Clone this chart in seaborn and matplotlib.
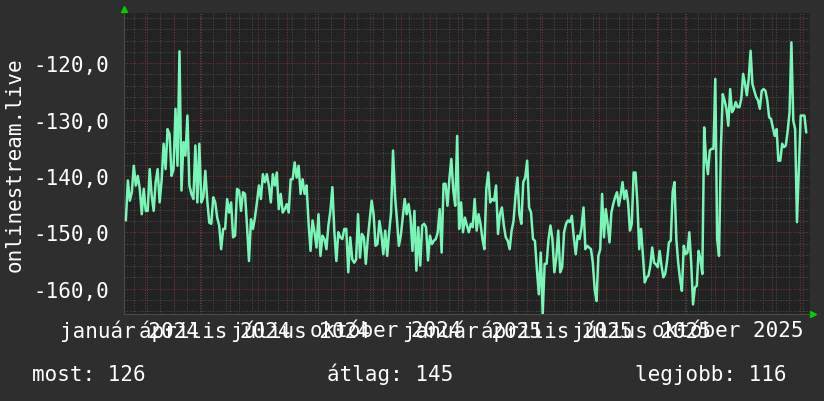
import pandas as pd
import seaborn as sns
import matplotlib
matplotlib.use('Agg')
import matplotlib.pyplot as plt
import matplotlib.dates as mdates
from matplotlib.ticker import MultipleLocator, FixedLocator, FuncFormatter

# values, in three traced stretches (left, middle, right)
seg1 = [-147.9, -140.8, -144.4, -142.9, -138.2, -141.7, -140.0, -142.3, -146.8, -142.3,
        -146.2, -146.2, -138.8, -143.5, -146.2, -141.1, -138.8, -144.7, -140.8, -134.3,
        -138.8, -131.7, -132.6, -140.0, -138.8, -128.1, -138.2, -117.9, -142.6, -134.0,
        -136.4, -129.3, -141.7, -143.2, -144.1, -134.6, -144.7, -134.3, -144.7, -143.8,
        -139.1, -144.4, -148.3, -148.5, -143.8, -144.7, -147.4, -148.8, -153.0, -149.4,
        -149.4, -144.1, -146.5, -144.7, -150.9, -150.6, -142.3, -142.6, -146.2, -142.9,
        -143.2, -148.8, -155.1, -147.7, -149.4, -147.4, -144.7, -141.7, -144.1, -139.7,
        -141.1, -139.7, -141.7, -144.7, -139.7, -141.7, -139.4, -145.9, -143.2, -146.5,
        -145.9, -145.0, -146.5, -140.6, -140.6, -137.6, -140.3, -138.2, -143.2, -140.6,
        -143.2, -141.7, -148.3, -153.3, -147.9, -150.0, -152.7, -146.8, -154.2, -150.6,
        -151.2, -153.0, -148.8, -146.2, -142.0, -150.0, -155.1, -150.0, -150.9, -151.2,
        -149.4, -149.4, -157.1, -150.9, -154.8, -155.4]
seg2 = [-154.8, -146.8, -154.5, -150.3, -150.9, -155.6, -151.2, -147.7, -144.4, -146.8,
        -152.4, -152.1, -148.0, -150.3, -153.9, -149.7, -154.2, -150.0, -146.5, -135.5,
        -143.5, -147.7, -152.4, -150.6, -147.4, -144.1, -146.8, -145.0, -147.4, -153.3,
        -146.2, -156.8, -149.1, -155.9, -148.8, -148.5, -149.1, -155.0, -150.6, -152.1,
        -151.5, -151.2, -150.0, -145.9, -153.6, -141.4, -141.4, -145.3, -140.5, -137.0,
        -142.6, -145.3, -132.9, -149.4, -144.7, -150.0, -147.4, -148.8, -150.0, -148.5,
        -149.1, -144.1, -149.7, -146.8, -148.5, -151.2, -153.0, -142.3, -139.4, -144.7,
        -144.1, -144.4, -141.7, -150.3, -146.8, -145.6, -148.8, -150.9, -151.5, -153.0,
        -149.7, -148.0, -143.5, -140.3, -146.8, -148.5, -141.1, -140.3, -137.3, -145.6,
        -146.5, -151.2, -151.5, -156.5, -161.0, -153.6, -164.5, -155.6, -155.6, -151.2,
        -148.8, -151.2, -157.1, -154.5, -149.7, -157.1, -156.2, -150.0, -148.5, -147.9,
        -148.2, -147.1, -150.9, -153.9, -150.6, -151.2, -149.1, -145.6]
seg3 = [-153.0, -152.4, -152.7, -153.0, -155.4, -160.1, -162.2, -154.2, -153.0, -143.2,
        -150.9, -145.9, -148.5, -151.8, -146.5, -145.0, -143.8, -142.9, -145.3, -143.5,
        -141.1, -144.1, -142.6, -144.7, -149.7, -148.5, -139.4, -139.4, -144.7, -153.0,
        -149.4, -154.2, -158.9, -158.0, -157.7, -155.9, -152.7, -155.4, -155.7, -156.2,
        -153.3, -155.9, -158.0, -157.4, -155.1, -151.8, -151.5, -142.9, -141.1, -151.2,
        -155.4, -158.3, -160.4, -152.4, -153.9, -153.6, -150.0, -155.4, -162.8, -159.8,
        -159.5, -153.3, -154.8, -157.4, -131.4, -137.0, -139.7, -135.5, -135.2, -135.2,
        -122.8, -151.2, -154.2, -135.2, -125.5, -126.6, -128.1, -131.1, -124.6, -128.7,
        -128.1, -126.9, -127.8, -127.8, -126.3, -121.9, -123.7, -125.7, -122.8, -117.8,
        -123.7, -124.9, -126.0, -126.6, -128.1, -124.9, -124.6, -124.9, -126.6, -129.6,
        -129.9, -131.4, -132.9, -131.7, -137.3, -137.3, -134.3, -134.9, -134.6, -132.0,
        -128.7, -116.3, -130.2, -131.7, -148.2, -138.8, -129.3, -129.3, -129.3, -132.3]

# date span of each traced stretch
seg_dates = [('2023-12-12', '2024-08-12'),
             ('2024-08-14', '2025-04-14'),
             ('2025-04-16', '2025-12-08')]
view_start, view_end = '2023-12-10', '2025-12-12'

label_months = ['2024-01-01', '2024-04-01', '2024-07-01', '2024-10-01',
                '2025-01-01', '2025-04-01', '2025-07-01', '2025-10-01']
label_text = ['január 2024', 'április 2024', 'július 2024', 'október 2024',
              'január 2025', 'április 2025', 'július 2025', 'október 2025']
summary = ['most: 126', 'átlag: 145', 'legjobb: 116']
source_name = 'onlinestream.live'

parts = []
for seg, (a, b) in zip([seg1, seg2, seg3], seg_dates):
    parts.append(pd.DataFrame({'date': pd.date_range(a, b, periods=len(seg)), 'value': seg}))
df = pd.concat(parts, ignore_index=True)

sns.set_style('dark')
plt.rcParams['font.family'] = ['DejaVu Sans Mono', 'DejaVu Sans']

fig = plt.figure(figsize=(8.24, 4.02), dpi=100, facecolor='#2e2e2e')
ax = fig.add_axes([124 / 824, 1 - 315 / 402, 686 / 824, 301 / 402])
ax.set_facecolor('#222222')

dots = (0, (1, 1.5))
red = '#7c3333'
grey = '#4c4c4c'
# month lines in red, two-week lines in grey
for d in pd.date_range(view_start, view_end, freq='MS'):
    ax.axvline(d, color=red, lw=0.75, ls=dots, zorder=0.6)
ax.xaxis.set_minor_locator(FixedLocator(mdates.date2num(
    pd.date_range('2023-12-21', view_end, freq='14D'))))
ax.grid(axis='x', which='minor', color=grey, lw=0.75, ls=dots)
ax.grid(axis='x', which='major', visible=False)
ax.yaxis.set_major_locator(MultipleLocator(10))
ax.yaxis.set_minor_locator(MultipleLocator(2))
ax.grid(axis='y', which='minor', color=grey, lw=0.75, ls=dots)
ax.grid(axis='y', which='major', color=red, lw=0.75, ls=dots)
ax.set_axisbelow(True)

sns.lineplot(data=df, x='date', y='value', ax=ax, color='#7af5b8', linewidth=1.8, zorder=3)

ax.set_xlim(pd.Timestamp(view_start), pd.Timestamp(view_end))
ax.set_ylim(-164.5, -111.1)

# labels sit about half a month before the quarter's first day
ax.set_xticks(mdates.date2num(pd.to_datetime(label_months) - pd.Timedelta(days=16)))
ax.set_xticklabels(label_text)
ax.yaxis.set_major_formatter(FuncFormatter(lambda v, p: f'{v:.1f}'.replace('.', ',')))
ax.tick_params(axis='x', which='major', length=0, pad=4, labelsize=15, labelcolor='white')
ax.tick_params(axis='y', which='major', length=0, pad=10.5, labelsize=15, labelcolor='white')
ax.tick_params(which='minor', length=0)
ax.set_xlabel('')
ax.set_ylabel('')

for s in ax.spines.values():
    s.set_visible(False)
ax.spines['bottom'].set_visible(True)
ax.spines['bottom'].set_color('#4a4a4a')
ax.spines['left'].set_visible(True)
ax.spines['left'].set_color('#4a4a4a')

# green axis arrows
ax.plot([0], [1.013], marker='^', ms=5, color='#00d000', transform=ax.transAxes, clip_on=False)
ax.plot([1.005], [0], marker='>', ms=5, color='#00d000', transform=ax.transAxes, clip_on=False)

fig.text(15 / 824, 1 - 165 / 402, source_name, rotation=90, ha='center', va='center',
         color='white', fontsize=15)
for txt, x in zip(summary, [32, 327, 635]):
    fig.text(x / 824, 1 - 381.5 / 402, txt, ha='left', va='baseline', color='white', fontsize=15)

plt.savefig('out.png', dpi=100, facecolor=fig.get_facecolor())
